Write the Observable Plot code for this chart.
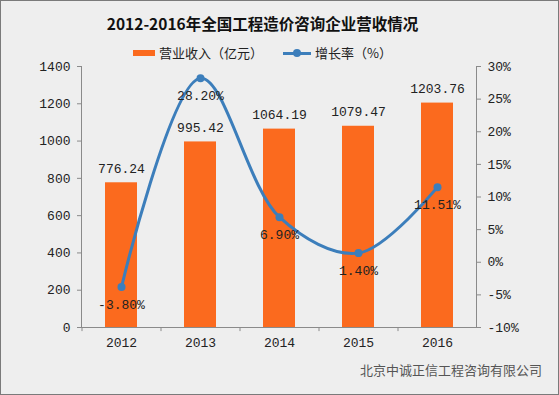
<!DOCTYPE html>
<html>
<head>
<meta charset="utf-8">
<script src="https://cdn.jsdelivr.net/npm/d3@7"></script>
<script src="https://cdn.jsdelivr.net/npm/@observablehq/plot@0.6"></script>
<style>
  body { margin: 0; background: #eeeeee; }
  #wrap { position: relative; width: 559px; height: 395px; background: #eeeeee; box-shadow: inset 0 0 0 1px #7a7a7a; overflow: hidden; }
  #title { position: absolute; top: 12px; left: 0; width: 525px; text-align: center; font: bold 15.5px "Noto Sans CJK SC", sans-serif; color: #111; line-height: 22px; }
  #legend { position: absolute; top: 44px; left: 0; width: 525px; display: flex; justify-content: center; align-items: center; font: 13px "Noto Sans CJK SC", sans-serif; color: #222; line-height: 18px; }
  .item { display: flex; align-items: center; margin: 0 10px; }
  .sw { width: 22px; height: 6px; background: #fb6a1e; margin-right: 4px; }
  .ln { position: relative; width: 28px; height: 3px; background: #3c7ebb; margin-right: 4px; }
  .ln::after { content: ""; position: absolute; left: 10px; top: -2.5px; width: 8px; height: 8px; border-radius: 50%; background: #3c7ebb; }
  #chart { position: absolute; top: 50px; left: 0; }
  #footer { position: absolute; top: 361px; left: 360px; font: 13px "Noto Sans CJK SC", sans-serif; color: #555; line-height: 18px; }
</style>
</head>
<body>
<div id="wrap">
  <div id="title">2012-2016年全国工程造价咨询企业营收情况</div>
  <div id="legend">
    <div class="item"><div class="sw"></div><span>营业收入（亿元）</span></div>
    <div class="item"><div class="ln"></div><span>增长率（%）</span></div>
  </div>
  <div id="chart"></div>
  <div id="footer">北京中诚正信工程咨询有限公司</div>
</div>
<script>
const years = ["2012", "2013", "2014", "2015", "2016"];
const revenue = [776.24, 995.42, 1064.19, 1079.47, 1203.76];
const growth = [-3.80, 28.20, 6.90, 1.40, 11.51];
const leftTicks = [0, 200, 400, 600, 800, 1000, 1200, 1400];
const rightTicks = [-10, -5, 0, 5, 10, 15, 20, 25, 30];

const yMax = 1400, pMin = -10, pMax = 30;
const toY = p => (p - pMin) / (pMax - pMin) * yMax;
const fromY = v => v / yMax * (pMax - pMin) + pMin;

const data = years.map((y, i) => ({year: y, rev: revenue[i], g: growth[i]}));
const orange = "#fb6a1e", blue = "#3c7ebb", axisColor = "#8a8a8a";
const mono = "'Liberation Mono', 'DejaVu Sans Mono', monospace";

const chart = Plot.plot({
  width: 559,
  height: 302,
  marginTop: 16,
  marginBottom: 25,
  marginLeft: 81,
  marginRight: 83,
  style: {background: "transparent", fontFamily: mono, fontSize: "13px", color: "#222", overflow: "visible"},
  x: {domain: years, paddingInner: 0.6, paddingOuter: 0.3, label: null},
  y: {domain: [0, yMax], label: null},
  marks: [
    Plot.barY(data, {x: "year", y: "rev", fill: orange}),
    Plot.ruleY([0], {stroke: axisColor}),
    Plot.frame({anchor: "left", stroke: axisColor}),
    Plot.frame({anchor: "right", stroke: axisColor}),
    Plot.ruleX(years, {x: d => d, dx: -39.5, y1: 0, y2: -22, stroke: axisColor}),
    Plot.axisY({anchor: "left", ticks: leftTicks, tickFormat: d => String(d), tickSize: 4, tickPadding: 7, stroke: axisColor, fill: "#222", label: null, fontSize: 13}),
    Plot.axisY({anchor: "right", ticks: rightTicks.map(toY), tickFormat: v => Math.round(fromY(v)) + "%", tickSize: 4, tickPadding: 7, stroke: axisColor, fill: "#222", label: null, fontSize: 13}),
    Plot.axisX({tickSize: 0, tickPadding: 10, fill: "#222", label: null, fontSize: 13}),
    Plot.line(data, {x: "year", y: d => toY(d.g), curve: "catmull-rom", stroke: blue, strokeWidth: 3}),
    Plot.dot(data, {x: "year", y: d => toY(d.g), r: 4, fill: blue}),
    Plot.text(data, {x: "year", y: "rev", text: d => d.rev.toFixed(2), dy: -14, fill: "#222", fontSize: 13}),
    Plot.text(data, {x: "year", y: d => toY(d.g), text: d => d.g.toFixed(2) + "%", dy: 18, fill: "#222", fontSize: 13})
  ]
});
document.getElementById("chart").appendChild(chart);
</script>
</body>
</html>
